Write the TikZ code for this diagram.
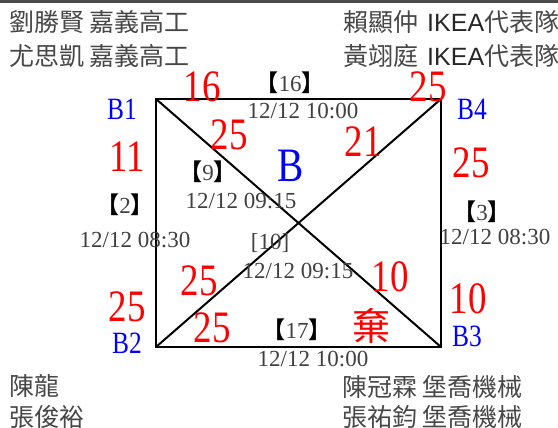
\documentclass[tikz,border=0pt]{standalone}
\usepackage{fontspec}
\usepackage{xcolor}
\setmainfont{Liberation Serif}
\newfontfamily\cjkfont{Noto Sans CJK TC}
\newfontfamily\bracketfont[RawFeature=+halt]{Noto Sans CJK TC}
\newfontfamily\narrowfont[FakeStretch=0.82]{Liberation Serif}
\newfontfamily\ikeafont{Liberation Sans}
\newcommand{\lb}{{\bracketfont\bfseries\color{black}【}}
\newcommand{\rb}{{\bracketfont\bfseries\color{black}】}}

\begin{document}
\begin{tikzpicture}[
    x=1pt, y=-1pt,
    edge/.style={line width=2pt, draw=black},
    score/.style={inner sep=0, text=red, font=\narrowfont\fontsize{45}{45}\selectfont},
    team/.style={inner sep=0, text=blue, font=\narrowfont\fontsize{31}{31}\selectfont},
    info/.style={inner sep=0, text=black!75, font=\fontsize{23}{23}\selectfont},
    member/.style={inner sep=0, anchor=west, text=black!72, font=\cjkfont\fontsize{25}{25}\selectfont}
]
\useasboundingbox (0,0) rectangle (558,428);
\draw[line width=3pt, draw=black!70] (0,1.5) -- (558,1.5);

% corners of the square
\coordinate (c1) at (156,99);
\coordinate (c4) at (441,99);
\coordinate (c2) at (156,347);
\coordinate (c3) at (441,347);

\draw[edge] (c1) -- (c4) -- (c3) -- (c2) -- cycle;
\draw[edge] (c1) -- (c3);
\draw[edge] (c2) -- (c4);

% teams
\node[team] (b1) at (122,109) {B1};
\node[team] (b4) at (472,109) {B4};
\node[team] (b2) at (127,343) {B2};
\node[team] (b3) at (467,336) {B3};
\node[inner sep=0, text=blue, font=\narrowfont\fontsize{48}{48}\selectfont] (winner) at (291,166) {B};

% scores
\node[score] (s16) at (202,87) {16};
\node[score] (s25a) at (428,87) {25};
\node[score] (s25b) at (229,135) {25};
\node[score] (s21) at (363,142) {21};
\node[score] (s11) at (127,157) {11};
\node[score] (s25c) at (471,163) {25};
\node[score] (s25d) at (127,307) {25};
\node[score] (s25e) at (199,281) {25};
\node[score] (s25f) at (212,328) {25};
\node[score] (s10a) at (390,277) {10};
\node[score] (s10b) at (468,299) {10};
\node[inner sep=0, text=red, font=\cjkfont\fontsize{38}{38}\selectfont] (forfeit) at (371,326) {棄};

% match numbers and times
\node[info] (m16) at (290,83) {\lb16\rb};
\node[info] (t16) at (303,111) {12/12 10:00};
\node[info] (m9) at (208,172) {\lb9\rb};
\node[info] (t9) at (241,201) {12/12 09:15};
\node[info] (m2) at (125,205) {\lb2\rb};
\node[info] (t2) at (135,240) {12/12 08:30};
\node[info] (m3) at (482,212) {\lb3\rb};
\node[info] (t3) at (495,237) {12/12 08:30};
\node[info] (m10) at (270,243) {[10]};
\node[info] (t10) at (298,271) {12/12 09:15};
\node[info] (m17) at (297,330) {\lb17\rb};
\node[info] (t17) at (313,359) {12/12 10:00};

% players
\node[member] (p1) at (9,22.5) {劉勝賢 嘉義高工};
\node[member] (p2) at (9,56) {尤思凱 嘉義高工};
\node[member] (p3) at (343,22.5) {賴顯仲\hspace{9pt}{\ikeafont\color{black!85}IKEA}代表隊};
\node[member] (p4) at (343,56) {黃翊庭\hspace{9pt}{\ikeafont\color{black!85}IKEA}代表隊};
\node[member] (p5) at (9,386) {陳龍};
\node[member] (p6) at (9,417) {張俊裕};
\node[member] (p7) at (342,387) {陳冠霖 堡喬機械};
\node[member] (p8) at (342,417) {張祐鈞 堡喬機械};
\end{tikzpicture}
\end{document}
